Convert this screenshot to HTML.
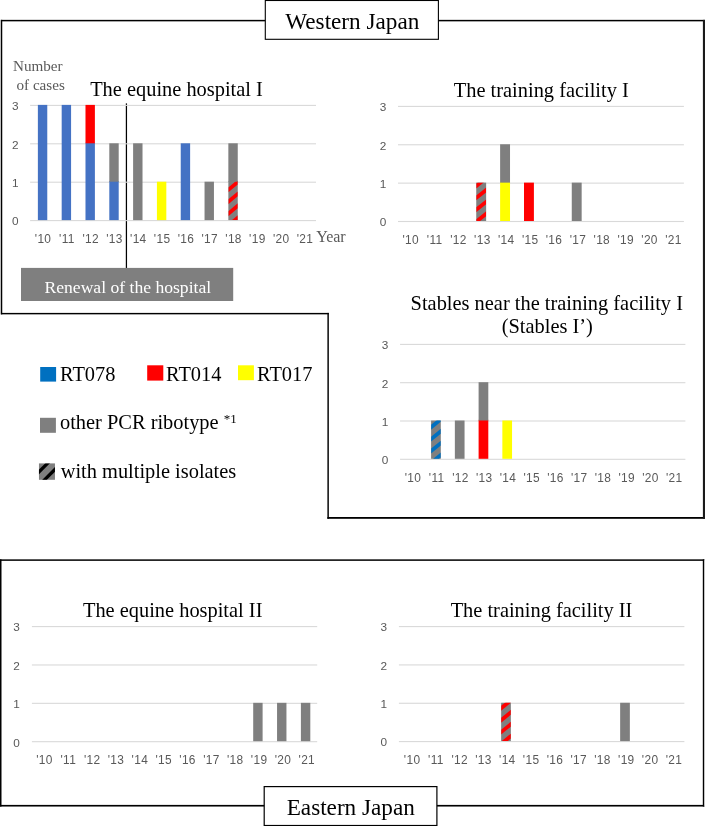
<!DOCTYPE html>
<html><head><meta charset="utf-8"><title>Figure</title>
<style>
html,body{margin:0;padding:0;background:#fff;}
svg{display:block;}
text{font-family:"Liberation Serif",serif;}
.ax text{font-family:"Liberation Sans",sans-serif;font-size:11.8px;fill:#595959;}
.ax text.xl{font-size:11.9px;letter-spacing:0.35px;}
.ti{font-size:20.4px;fill:#000;}
.lg{font-size:20.4px;fill:#000;}
.nm{font-size:15.15px;fill:#595959;}
.rg{font-size:23.2px;fill:#000;}
</style></head><body>
<svg width="705" height="826" viewBox="0 0 705 826">
<rect width="705" height="826" fill="#fff"/>
<!-- Western outline -->
<g fill="#000">
<rect x="0.8" y="19.85" width="704.2" height="1.5"/>
<rect x="0.8" y="19.85" width="1.45" height="294.5"/>
<rect x="0.8" y="312.9" width="328" height="1.45"/>
<rect x="327.4" y="312.9" width="1.45" height="205.9"/>
<rect x="327.4" y="517.0" width="377.6" height="1.8"/>
<rect x="702.9" y="19.85" width="2.1" height="498.95" fill="#1a1a1a"/>
<rect x="0" y="20" width="0.8" height="294" fill="#bbb"/>
</g>
<rect x="265.3" y="0.5" width="173.1" height="38.8" fill="#fff" stroke="#000" stroke-width="1.1"/>
<text class="rg" x="285.3" y="28.8">Western Japan</text>
<!-- Eastern outline -->
<g fill="#000">
<rect x="0" y="559.35" width="704.3" height="1.5"/>
<rect x="0" y="559.35" width="1.5" height="247.2"/>
<rect x="0" y="804.9" width="704.3" height="1.65"/>
<rect x="702.8" y="559.35" width="1.5" height="247.2"/>
<rect x="704.3" y="560" width="0.7" height="246" fill="#ccc"/>
</g>
<rect x="264.2" y="786.6" width="172.7" height="38.9" fill="#fff" stroke="#000" stroke-width="1.2"/>
<text class="rg" x="286.7" y="814.9">Eastern Japan</text>
<text class="nm" x="13" y="70.5">Number</text>
<text class="nm" x="16.5" y="89.6">of cases</text>
<rect x="125.8" y="103.4" width="1.25" height="166" fill="#000"/>
<g>
<rect x="30.1" y="220.05" width="285.9" height="1.1" fill="#D9D9D9"/>
<rect x="30.1" y="181.65" width="285.9" height="1.1" fill="#D9D9D9"/>
<rect x="30.1" y="143.25" width="285.9" height="1.1" fill="#D9D9D9"/>
<rect x="30.1" y="104.85" width="285.9" height="1.1" fill="#D9D9D9"/>
<rect x="37.87" y="104.9" width="9.4" height="115.2" fill="#4472C4"/>
<rect x="61.68" y="104.9" width="9.4" height="115.2" fill="#4472C4"/>
<rect x="85.49" y="142.6" width="9.4" height="77.5" fill="#4472C4"/>
<rect x="85.49" y="104.9" width="9.4" height="38.4" fill="#FF0000"/>
<rect x="109.3" y="181" width="9.4" height="39.1" fill="#4472C4"/>
<rect x="109.3" y="143.3" width="9.4" height="38.4" fill="#7F7F7F"/>
<rect x="133.11" y="143.3" width="9.4" height="76.8" fill="#7F7F7F"/>
<rect x="156.92" y="181.7" width="9.4" height="38.4" fill="#FFFF00"/>
<rect x="180.73" y="143.3" width="9.4" height="76.8" fill="#4472C4"/>
<rect x="204.54" y="181.7" width="9.4" height="38.4" fill="#7F7F7F"/>
<clipPath id="c1"><rect x="228.35" y="181" width="9.4" height="39.1"/></clipPath>
<rect x="228.35" y="181" width="9.4" height="39.1" fill="#7F7F7F"/>
<g clip-path="url(#c1)" fill="#FF0000">
<polygon points="228.35,235.05 237.75,227.15 237.75,232.05 228.35,239.95"/>
<polygon points="228.35,223.15 237.75,215.25 237.75,220.15 228.35,228.05"/>
<polygon points="228.35,211.25 237.75,203.35 237.75,208.25 228.35,216.15"/>
<polygon points="228.35,199.35 237.75,191.45 237.75,196.35 228.35,204.25"/>
<polygon points="228.35,187.45 237.75,179.55 237.75,184.45 228.35,192.35"/>
<polygon points="228.35,175.55 237.75,167.65 237.75,172.55 228.35,180.45"/>
<polygon points="228.35,163.65 237.75,155.75 237.75,160.65 228.35,168.55"/>
</g>
<rect x="228.35" y="143.3" width="9.4" height="38.4" fill="#7F7F7F"/>
<g class="ax" text-anchor="middle">
<text x="15.3" y="225.4">0</text>
<text x="15.3" y="187">1</text>
<text x="15.3" y="148.6">2</text>
<text x="15.3" y="110.2">3</text>
<text class="xl" x="43.07" y="242.7">'10</text>
<text class="xl" x="66.88" y="242.7">'11</text>
<text class="xl" x="90.69" y="242.7">'12</text>
<text class="xl" x="114.5" y="242.7">'13</text>
<text class="xl" x="138.31" y="242.7">'14</text>
<text class="xl" x="162.12" y="242.7">'15</text>
<text class="xl" x="185.93" y="242.7">'16</text>
<text class="xl" x="209.74" y="242.7">'17</text>
<text class="xl" x="233.55" y="242.7">'18</text>
<text class="xl" x="257.36" y="242.7">'19</text>
<text class="xl" x="281.17" y="242.7">'20</text>
<text class="xl" x="304.98" y="242.7">'21</text>
</g>
<text class="ti" text-anchor="middle" x="176.5" y="96">The equine hospital I</text>
</g>
<text x="316.2" y="242.3" font-size="16" fill="#595959">Year</text>
<rect x="21" y="267.9" width="212.2" height="33.1" fill="#7F7F7F"/>
<text x="44.5" y="292.6" font-size="17.6" fill="#fff">Renewal of the hospital</text>
<g>
<rect x="398" y="220.95" width="285.9" height="1.1" fill="#D9D9D9"/>
<rect x="398" y="182.58" width="285.9" height="1.1" fill="#D9D9D9"/>
<rect x="398" y="144.22" width="285.9" height="1.1" fill="#D9D9D9"/>
<rect x="398" y="105.85" width="285.9" height="1.1" fill="#D9D9D9"/>
<clipPath id="c2"><rect x="476.24" y="182.63" width="9.9" height="38.37"/></clipPath>
<rect x="476.24" y="182.63" width="9.9" height="38.37" fill="#7F7F7F"/>
<g clip-path="url(#c2)" fill="#FF0000">
<polygon points="476.24,231.15 486.14,223.25 486.14,228.15 476.24,236.05"/>
<polygon points="476.24,219.25 486.14,211.35 486.14,216.25 476.24,224.15"/>
<polygon points="476.24,207.35 486.14,199.45 486.14,204.35 476.24,212.25"/>
<polygon points="476.24,195.45 486.14,187.55 486.14,192.45 476.24,200.35"/>
<polygon points="476.24,183.55 486.14,175.65 486.14,180.55 476.24,188.45"/>
<polygon points="476.24,171.65 486.14,163.75 486.14,168.65 476.24,176.55"/>
<polygon points="476.24,159.75 486.14,151.85 486.14,156.75 476.24,164.65"/>
</g>
<rect x="500.12" y="181.93" width="9.9" height="39.07" fill="#FFFF00"/>
<rect x="500.12" y="144.27" width="9.9" height="38.37" fill="#7F7F7F"/>
<rect x="524" y="182.63" width="9.9" height="38.37" fill="#FF0000"/>
<rect x="571.76" y="182.63" width="9.9" height="38.37" fill="#7F7F7F"/>
<g class="ax" text-anchor="middle">
<text x="383.1" y="226.3">0</text>
<text x="383.1" y="187.93">1</text>
<text x="383.1" y="149.57">2</text>
<text x="383.1" y="111.2">3</text>
<text class="xl" x="410.75" y="243.9">'10</text>
<text class="xl" x="434.63" y="243.9">'11</text>
<text class="xl" x="458.51" y="243.9">'12</text>
<text class="xl" x="482.39" y="243.9">'13</text>
<text class="xl" x="506.27" y="243.9">'14</text>
<text class="xl" x="530.15" y="243.9">'15</text>
<text class="xl" x="554.03" y="243.9">'16</text>
<text class="xl" x="577.91" y="243.9">'17</text>
<text class="xl" x="601.79" y="243.9">'18</text>
<text class="xl" x="625.67" y="243.9">'19</text>
<text class="xl" x="649.55" y="243.9">'20</text>
<text class="xl" x="673.43" y="243.9">'21</text>
</g>
<text class="ti" text-anchor="middle" x="541.3" y="97.4">The training facility I</text>
</g>
<g>
<rect x="400.05" y="458.75" width="285.35" height="1.1" fill="#D9D9D9"/>
<rect x="400.05" y="420.45" width="285.35" height="1.1" fill="#D9D9D9"/>
<rect x="400.05" y="382.15" width="285.35" height="1.1" fill="#D9D9D9"/>
<rect x="400.05" y="343.85" width="285.35" height="1.1" fill="#D9D9D9"/>
<clipPath id="c3"><rect x="431.1" y="420.5" width="9.7" height="38.3"/></clipPath>
<rect x="431.1" y="420.5" width="9.7" height="38.3" fill="#7F7F7F"/>
<g clip-path="url(#c3)" fill="#0070C0">
<polygon points="431.1,472.35 440.8,464.45 440.8,469.35 431.1,477.25"/>
<polygon points="431.1,460.45 440.8,452.55 440.8,457.45 431.1,465.35"/>
<polygon points="431.1,448.55 440.8,440.65 440.8,445.55 431.1,453.45"/>
<polygon points="431.1,436.65 440.8,428.75 440.8,433.65 431.1,441.55"/>
<polygon points="431.1,424.75 440.8,416.85 440.8,421.75 431.1,429.65"/>
<polygon points="431.1,412.85 440.8,404.95 440.8,409.85 431.1,417.75"/>
<polygon points="431.1,400.95 440.8,393.05 440.8,397.95 431.1,405.85"/>
</g>
<rect x="454.85" y="420.5" width="9.7" height="38.3" fill="#7F7F7F"/>
<rect x="478.6" y="419.8" width="9.7" height="39" fill="#FF0000"/>
<rect x="478.6" y="382.2" width="9.7" height="38.3" fill="#7F7F7F"/>
<rect x="502.35" y="420.5" width="9.7" height="38.3" fill="#FFFF00"/>
<g class="ax" text-anchor="middle">
<text x="385" y="464.1">0</text>
<text x="385" y="425.8">1</text>
<text x="385" y="387.5">2</text>
<text x="385" y="349.2">3</text>
<text class="xl" x="412.9" y="481.8">'10</text>
<text class="xl" x="436.65" y="481.8">'11</text>
<text class="xl" x="460.4" y="481.8">'12</text>
<text class="xl" x="484.15" y="481.8">'13</text>
<text class="xl" x="507.9" y="481.8">'14</text>
<text class="xl" x="531.65" y="481.8">'15</text>
<text class="xl" x="555.4" y="481.8">'16</text>
<text class="xl" x="579.15" y="481.8">'17</text>
<text class="xl" x="602.9" y="481.8">'18</text>
<text class="xl" x="626.65" y="481.8">'19</text>
<text class="xl" x="650.4" y="481.8">'20</text>
<text class="xl" x="674.15" y="481.8">'21</text>
</g>
<text class="ti" text-anchor="middle" x="546.8" y="309.8">Stables near the training facility I</text>
<text class="ti" text-anchor="middle" x="547.3" y="332.9">(Stables I’)</text>
</g>
<g>
<rect x="31.9" y="741.15" width="285.3" height="1.1" fill="#D9D9D9"/>
<rect x="31.9" y="702.78" width="285.3" height="1.1" fill="#D9D9D9"/>
<rect x="31.9" y="664.42" width="285.3" height="1.1" fill="#D9D9D9"/>
<rect x="31.9" y="626.05" width="285.3" height="1.1" fill="#D9D9D9"/>
<rect x="253.2" y="702.83" width="9.4" height="38.37" fill="#7F7F7F"/>
<rect x="277.05" y="702.83" width="9.4" height="38.37" fill="#7F7F7F"/>
<rect x="300.9" y="702.83" width="9.4" height="38.37" fill="#7F7F7F"/>
<g class="ax" text-anchor="middle">
<text x="16.6" y="746.5">0</text>
<text x="16.6" y="708.13">1</text>
<text x="16.6" y="669.77">2</text>
<text x="16.6" y="631.4">3</text>
<text class="xl" x="44.45" y="763.8">'10</text>
<text class="xl" x="68.3" y="763.8">'11</text>
<text class="xl" x="92.15" y="763.8">'12</text>
<text class="xl" x="116" y="763.8">'13</text>
<text class="xl" x="139.85" y="763.8">'14</text>
<text class="xl" x="163.7" y="763.8">'15</text>
<text class="xl" x="187.55" y="763.8">'16</text>
<text class="xl" x="211.4" y="763.8">'17</text>
<text class="xl" x="235.25" y="763.8">'18</text>
<text class="xl" x="259.1" y="763.8">'19</text>
<text class="xl" x="282.95" y="763.8">'20</text>
<text class="xl" x="306.8" y="763.8">'21</text>
</g>
<text class="ti" text-anchor="middle" x="172.7" y="617">The equine hospital II</text>
</g>
<g>
<rect x="398.9" y="741.05" width="285.5" height="1.1" fill="#D9D9D9"/>
<rect x="398.9" y="702.72" width="285.5" height="1.1" fill="#D9D9D9"/>
<rect x="398.9" y="664.38" width="285.5" height="1.1" fill="#D9D9D9"/>
<rect x="398.9" y="626.05" width="285.5" height="1.1" fill="#D9D9D9"/>
<clipPath id="c4"><rect x="501.15" y="702.77" width="9.7" height="38.33"/></clipPath>
<rect x="501.15" y="702.77" width="9.7" height="38.33" fill="#7F7F7F"/>
<g clip-path="url(#c4)" fill="#FF0000">
<polygon points="501.15,753.45 510.85,745.55 510.85,750.45 501.15,758.35"/>
<polygon points="501.15,741.55 510.85,733.65 510.85,738.55 501.15,746.45"/>
<polygon points="501.15,729.65 510.85,721.75 510.85,726.65 501.15,734.55"/>
<polygon points="501.15,717.75 510.85,709.85 510.85,714.75 501.15,722.65"/>
<polygon points="501.15,705.85 510.85,697.95 510.85,702.85 501.15,710.75"/>
<polygon points="501.15,693.95 510.85,686.05 510.85,690.95 501.15,698.85"/>
<polygon points="501.15,682.05 510.85,674.15 510.85,679.05 501.15,686.95"/>
</g>
<rect x="620.15" y="702.77" width="9.7" height="38.33" fill="#7F7F7F"/>
<g class="ax" text-anchor="middle">
<text x="383.8" y="746.4">0</text>
<text x="383.8" y="708.07">1</text>
<text x="383.8" y="669.73">2</text>
<text x="383.8" y="631.4">3</text>
<text class="xl" x="412.1" y="764">'10</text>
<text class="xl" x="435.9" y="764">'11</text>
<text class="xl" x="459.7" y="764">'12</text>
<text class="xl" x="483.5" y="764">'13</text>
<text class="xl" x="507.3" y="764">'14</text>
<text class="xl" x="531.1" y="764">'15</text>
<text class="xl" x="554.9" y="764">'16</text>
<text class="xl" x="578.7" y="764">'17</text>
<text class="xl" x="602.5" y="764">'18</text>
<text class="xl" x="626.3" y="764">'19</text>
<text class="xl" x="650.1" y="764">'20</text>
<text class="xl" x="673.9" y="764">'21</text>
</g>
<text class="ti" text-anchor="middle" x="541.5" y="616.7">The training facility II</text>
</g>
<!-- legend -->
<rect x="40.2" y="367" width="15.9" height="14.6" fill="#0070C0"/>
<text class="lg" x="60" y="381">RT078</text>
<rect x="147.2" y="365.3" width="16.1" height="15.3" fill="#FF0000"/>
<text class="lg" x="166" y="381">RT014</text>
<rect x="238" y="365.3" width="15.9" height="14.9" fill="#FFFF00"/>
<text class="lg" x="257" y="381">RT017</text>
<rect x="40" y="417.8" width="15.9" height="15" fill="#7F7F7F"/>
<text class="lg" x="60" y="428.8">other PCR ribotype <tspan font-size="13" dy="-6.2">*1</tspan></text>
<clipPath id="lk"><rect x="38.96" y="463.4" width="16" height="16.4"/></clipPath>
<rect x="38.96" y="463.4" width="16" height="16.4" fill="#7F7F7F"/>
<g clip-path="url(#lk)"><g fill="#000" transform="translate(38.96 463.4)">
<polygon points="-2,8.2 -2,12.8 18,-7.2 18,-11.8"/>
<polygon points="-2,21.7 -2,26.3 18,6.3 18,1.7"/>
</g></g>
<text class="lg" x="60.7" y="478.1">with multiple isolates</text>
</svg>
</body></html>
